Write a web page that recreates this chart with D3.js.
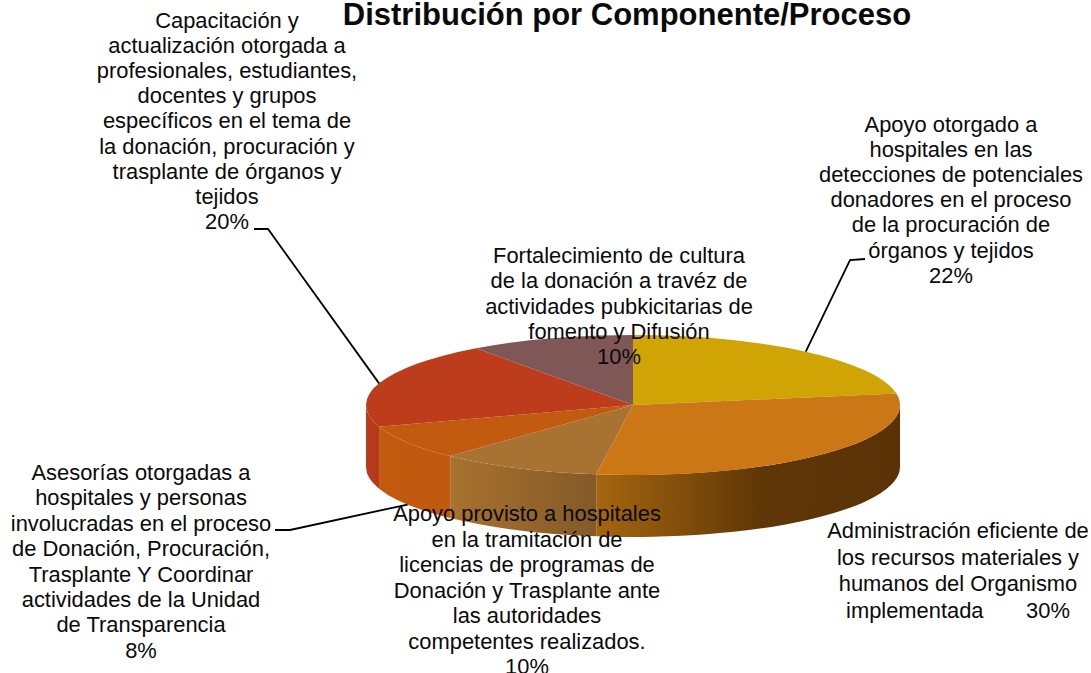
<!DOCTYPE html>
<html>
<head>
<meta charset="utf-8">
<script src="https://cdn.jsdelivr.net/npm/d3@7"></script>
<style>
    html, body { margin: 0; background: #fff; }
    svg { display: block; }
    text { font-family: "Liberation Sans", Arial, sans-serif; fill: #0a0a0a; white-space: pre; }
</style>
</head>
<body>
<svg id="chart" width="1091" height="673"></svg>
<script>
const title = 'Distribución por Componente/Proceso'

// clockwise from 12 o'clock
const categories = [
    'Apoyo otorgado a hospitales',
    'Administración eficiente',
    'Apoyo provisto a hospitales',
    'Asesorías otorgadas',
    'Capacitación y actualización',
    'Fortalecimiento de cultura'
]
// they round to the printed percentages
const values = [22.4, 29.8, 9.8, 8, 20, 10]
const topColors = ['#d0a404', '#cb7716', '#a87232', '#c25a0f', '#bc3c1c', '#7f5757']

const labelLines = [
    ['Apoyo otorgado a', 'hospitales en las', 'detecciones de potenciales', 'donadores en el proceso', 'de la procuración de', 'órganos y tejidos', '22%'],
    ['Administración eficiente de', 'los recursos materiales y', 'humanos del Organismo', 'implementada       30%'],
    ['Apoyo provisto a hospitales', 'en la tramitación de', 'licencias de programas de', 'Donación y Trasplante ante', 'las autoridades', 'competentes realizados.', '10%'],
    ['Asesorías otorgadas a', 'hospitales y personas', 'involucradas en el proceso', 'de Donación, Procuración,', 'Trasplante Y Coordinar', 'actividades de la Unidad', 'de Transparencia', '8%'],
    ['Capacitación y', 'actualización otorgada a', 'profesionales, estudiantes,', 'docentes y grupos', 'específicos en el tema de', 'la donación, procuración y', 'trasplante de órganos y', 'tejidos', '20%'],
    ['Fortalecimiento de cultura', 'de la donación a travéz de', 'actividades pubkicitarias de', 'fomento y Difusión', '10%']
]

// where each label block sits: centre x, first baseline, line spacing
const labelPos = [
    [951, 132, 25.1], [958, 538, 26.6], [527, 521, 25.5], [141, 480, 25.4], [227, 28, 25.1], [619, 263, 25.3]
]
// elbows of the leader lines, null = no leader
const leaderElbows = [
    [[850, 260], [865, 259]],
    null,
    null,
    [[290, 530], [275, 530]],
    [[268, 229], [254, 229]],
    null
]

const cx = 633, cy = 405, rx = 267, ry = 70, depth = 62

const svg = d3.select('#chart')
const defs = svg.append('defs')

const angles = d3.pie().value(d => d).sort(null)(values)

// screen position of an angle on the tilted disc
const px = a => cx + rx * Math.sin(a)
const py = a => cy - ry * Math.cos(a)

const discX = d3.scaleLinear().domain([-1, 1]).range([cx - rx, cx + rx])

function wedgePath(d) {
    const large = d.endAngle - d.startAngle > Math.PI ? 1 : 0
    return `M${cx},${cy}L${px(d.startAngle)},${py(d.startAngle)}` +
        `A${rx},${ry} 0 ${large} 1 ${px(d.endAngle)},${py(d.endAngle)}Z`
}

// only the part between 3 and 9 o'clock faces us
function sidePath(d) {
    const a0 = Math.max(d.startAngle, Math.PI / 2)
    const a1 = Math.min(d.endAngle, Math.PI * 1.5)
    if (a1 <= a0) return null
    return `M${px(a0)},${py(a0)}A${rx},${ry} 0 0 1 ${px(a1)},${py(a1)}` +
        `L${px(a1)},${py(a1) + depth}A${rx},${ry} 0 0 0 ${px(a0)},${py(a0) + depth}Z`
}

// side shading, per slice: stops go left to right across the rim
const sideStops = [
    [],
    [[0, '#a5660f'], [0.55, '#5f3607'], [1, '#5a3206']],
    [[0, '#a8722f'], [1, '#845a28']],
    [[0, '#c25a0f'], [1, '#c05a10']],
    [[0, '#b93c1c'], [1, '#b43a1b']],
    []
]

sideStops.forEach((stops, i) => {
    if (!stops.length) return
    const d = angles[i]
    const a0 = Math.max(d.startAngle, Math.PI / 2)
    const a1 = Math.min(d.endAngle, Math.PI * 1.5)
    const g = defs.append('linearGradient')
        .attr('id', 'side' + i)
        .attr('gradientUnits', 'userSpaceOnUse')
        .attr('x1', discX(Math.min(Math.sin(a0), Math.sin(a1))))
        .attr('x2', discX(Math.max(Math.sin(a0), Math.sin(a1))))
        .attr('y1', 0).attr('y2', 0)
    stops.forEach(s => g.append('stop').attr('offset', s[0]).attr('stop-color', s[1]))
})

svg.append('g').selectAll('path')
    .data(angles.filter(d => sidePath(d)))
    .join('path')
    .attr('d', sidePath)
    .attr('fill', d => `url(#side${d.index})`)

svg.append('g').selectAll('path')
    .data(angles)
    .join('path')
    .attr('d', wedgePath)
    .attr('fill', (d, i) => topColors[i])

// leader lines start at the middle of their slice
const leaders = svg.append('g').attr('fill', 'none').attr('stroke', '#000').attr('stroke-width', 1.8)
angles.forEach((d, i) => {
    if (!leaderElbows[i]) return
    const mid = (d.startAngle + d.endAngle) / 2
    const onFront = Math.cos(mid) < 0 && i === 3
    const start = [px(mid), py(mid) + (onFront ? depth : 0)]
    leaders.append('path').attr('d', d3.line()([start].concat(leaderElbows[i])))
})

const labels = svg.append('g').attr('font-size', 21.9).attr('text-anchor', 'middle')
labelLines.forEach((lines, i) => {
    labels.append('text')
        .selectAll('tspan')
        .data(lines)
        .join('tspan')
        .attr('x', labelPos[i][0])
        .attr('y', (d, j) => labelPos[i][1] + j * labelPos[i][2])
        .text(d => d)
})

svg.append('text')
    .attr('x', 627).attr('y', 25)
    .attr('text-anchor', 'middle')
    .attr('font-size', 31)
    .attr('font-weight', 'bold')
    .text(title)
</script>
</body>
</html>
